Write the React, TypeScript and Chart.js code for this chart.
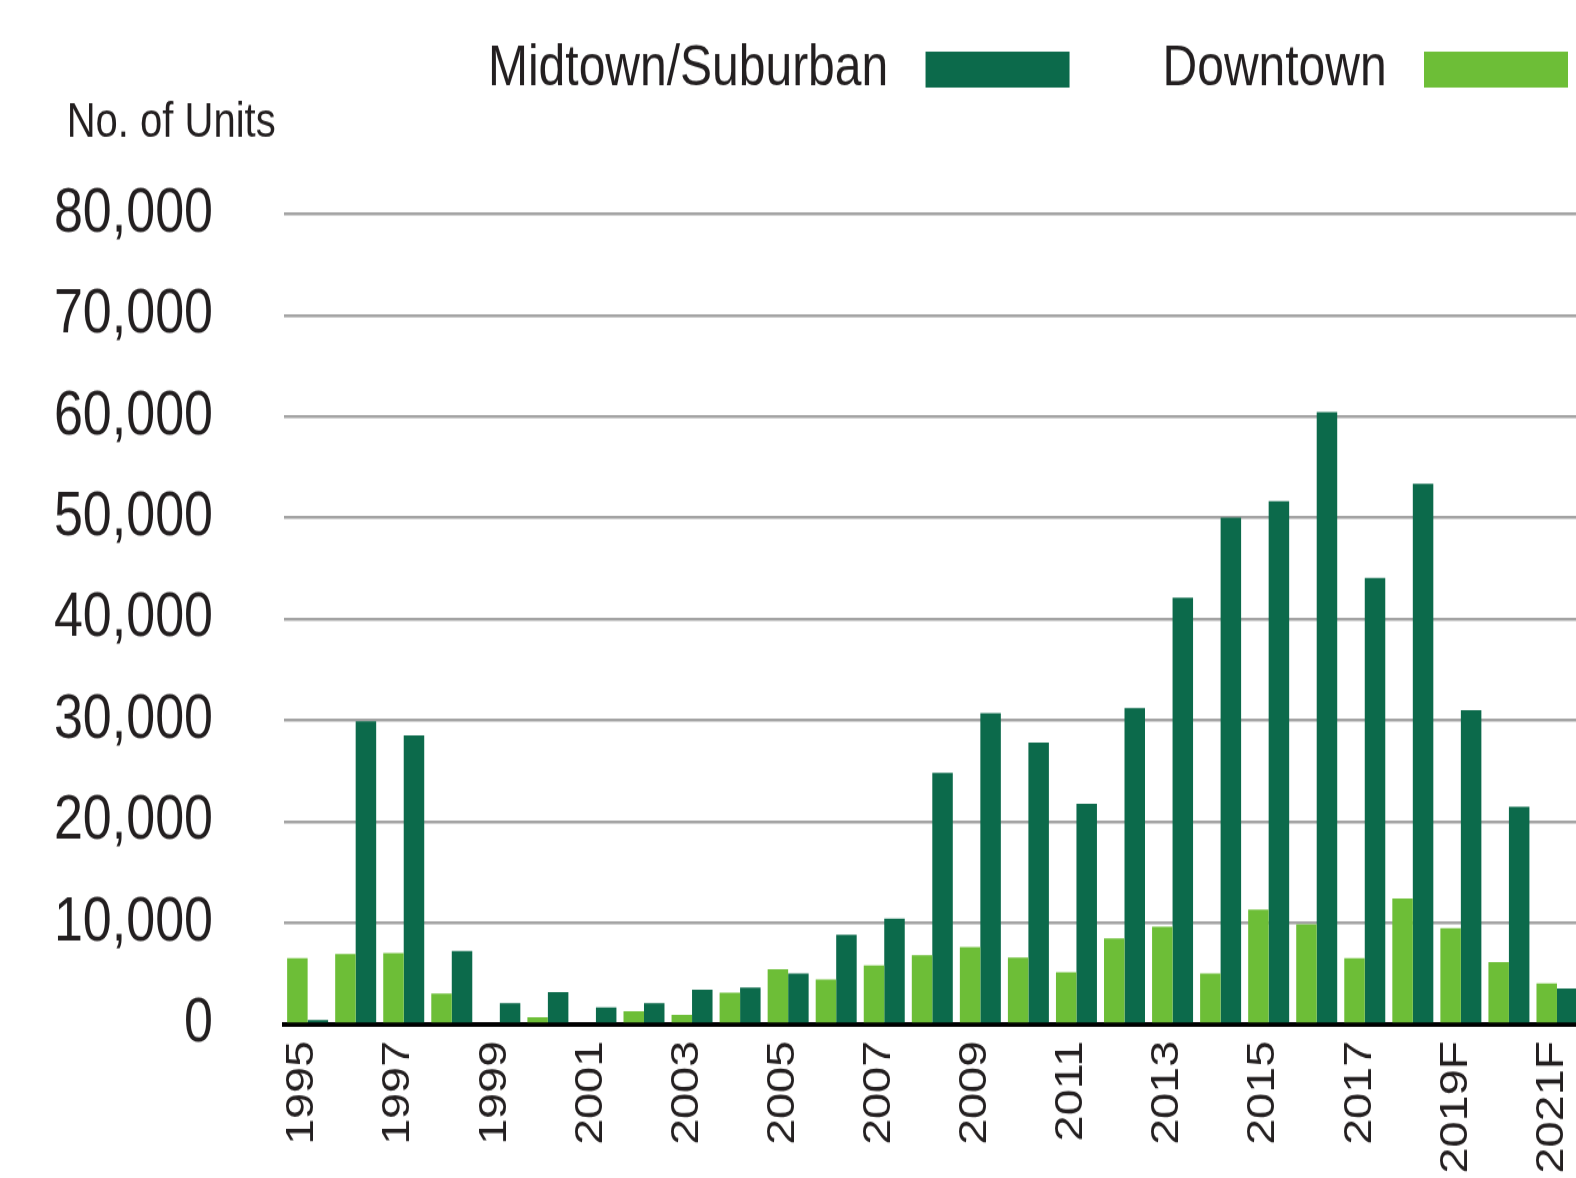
import React, { useEffect, useRef } from "react";
import { Chart, registerables } from "chart.js";

Chart.register(...registerables);

// ---- data ----
const years = [
  "1995", "1996", "1997", "1998", "1999", "2000", "2001", "2002", "2003",
  "2004", "2005", "2006", "2007", "2008", "2009", "2010", "2011", "2012",
  "2013", "2014", "2015", "2016", "2017", "2018", "2019F", "2020F", "2021F",
];

const downtown = [
  6500, 6900, 7000, 3000, 0, 650, 0, 1250, 900,
  3100, 5400, 4400, 5800, 6800, 7600, 6550, 5100, 8450,
  9600, 5000, 11300, 9850, 6500, 12400, 9450, 6100, 4000,
];

const midtownSuburban = [
  400, 29900, 28500, 7200, 2050, 3150, 1650, 2050, 3400,
  3600, 5000, 8800, 10400, 24800, 30700, 27800, 21750, 31200,
  42100, 50000, 51650, 60450, 44050, 53350, 31000, 21450, 3500,
];

const yTicks = [0, 10000, 20000, 30000, 40000, 50000, 60000, 70000, 80000];

const seriesNames = ["Downtown", "Midtown/Suburban"];
const axisTitle = "No. of Units";

// ---- styling ----
const DARK = "#0c6a4b";
const LIGHT = "#6dbe37";
const TEXT = "#231f20";
const FONT = "'Liberation Sans', Arial, sans-serif";

const CANVAS_W = 1600;
const CANVAS_H = 982;
const DISPLAY_H = 1178;

export default function App() {
  const ref = useRef<HTMLCanvasElement | null>(null);

  useEffect(() => {
    const canvas = ref.current;
    if (!canvas) return;
    Chart.defaults.font.family = FONT;
    Chart.defaults.color = TEXT;

    const chart = new Chart(canvas, {
      type: "bar",
      data: {
        labels: years,
        datasets: [
          {
            label: seriesNames[0],
            data: downtown,
            backgroundColor: LIGHT,
            borderWidth: 0,
            barPercentage: 1,
            categoryPercentage: 0.853,
          },
          {
            label: seriesNames[1],
            data: midtownSuburban,
            backgroundColor: DARK,
            borderWidth: 0,
            barPercentage: 1,
            categoryPercentage: 0.853,
          },
        ],
      },
      options: {
        responsive: false,
        animation: false,
        devicePixelRatio: 1,
        layout: { padding: { left: 0, right: 19, top: 21, bottom: 0 } },
        plugins: {
          tooltip: { enabled: false },
          legend: {
            display: true,
            position: "top",
            align: "start",
            rtl: true,
            textDirection: "ltr",
            weight: 3000,
            labels: {
              boxWidth: 144,
              boxHeight: 30,
              padding: 13,
              color: TEXT,
              font: { size: 48, family: FONT },
              generateLabels: (c: any) =>
                Chart.defaults.plugins.legend.labels
                  .generateLabels(c)
                  .map((item: any) => ({
                    ...item,
                    text:
                      item.datasetIndex === 0
                        ? "      " + item.text + " "
                        : item.text + " ",
                  })),
            },
          },
          title: {
            display: true,
            text: "      " + axisTitle,
            align: "start",
            color: TEXT,
            font: { size: 40, family: FONT, weight: "normal" },
            padding: { top: -13.4, bottom: 51.8 },
          },
        },
        scales: {
          x: {
            grid: { display: false, drawTicks: false },
            border: { display: true, color: "#000000", width: 4 },
            ticks: {
              autoSkip: false,
              maxRotation: 90,
              minRotation: 90,
              padding: 14,
              labelOffset: -5,
              color: TEXT,
              font: { size: 39, family: FONT },
              callback: function (this: any, value: any, index: number) {
                return index % 2 === 0 ? this.getLabelForValue(value) : "";
              },
            },
            afterFit: (s: any) => {
              s.height = 128.4;
              s.paddingLeft = 0;
              s.paddingRight = 0;
            },
          },
          y: {
            min: 0,
            max: 80000,
            afterBuildTicks: (s: any) => {
              s.ticks = yTicks.map((v) => ({ value: v }));
            },
            grid: { color: "#a3a3a3", lineWidth: 2.5, drawTicks: false },
            border: { display: false },
            ticks: {
              padding: 70.6,
              color: TEXT,
              font: { size: 52, family: FONT },
              callback: (v: any) => Number(v).toLocaleString("en-US"),
            },
            afterFit: (s: any) => {
              s.width = 283.6;
            },
          },
        },
      },
    });

    return () => chart.destroy();
  }, []);

  return (
    <div
      style={{
        position: "fixed",
        left: 0,
        top: 0,
        width: 1576,
        height: DISPLAY_H,
        overflow: "hidden",
        background: "#ffffff",
      }}
    >
      <canvas
        ref={ref}
        width={CANVAS_W}
        height={CANVAS_H}
        style={{ width: CANVAS_W + "px", height: DISPLAY_H + "px", display: "block" }}
      />
    </div>
  );
}
